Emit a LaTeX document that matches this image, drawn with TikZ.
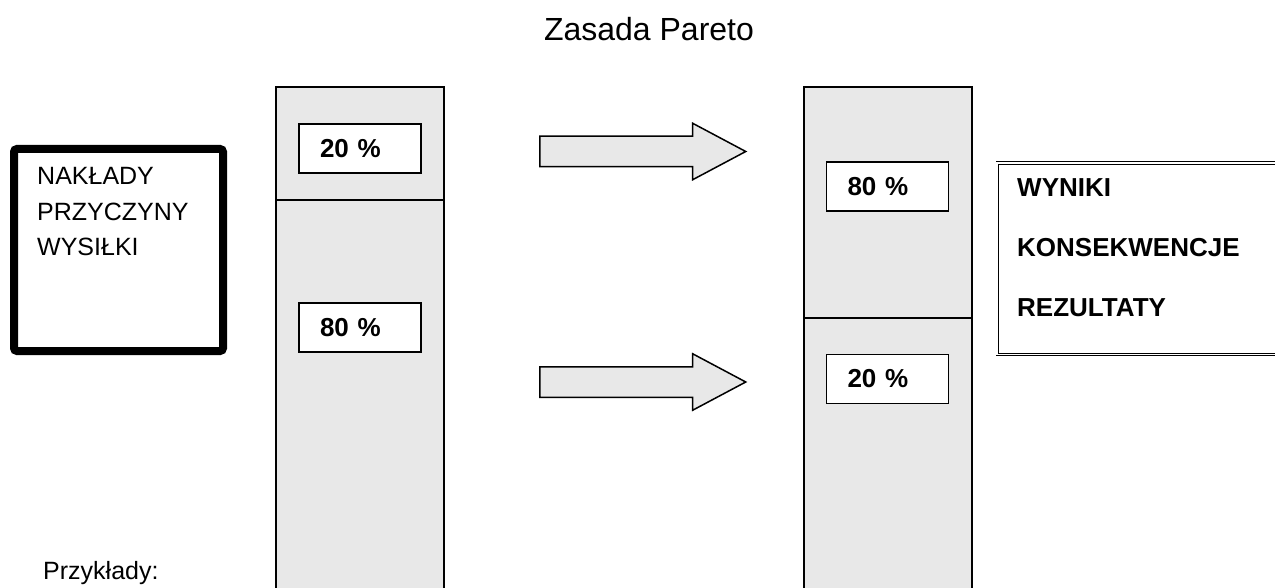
\documentclass[tikz,border=0pt]{standalone}
\usepackage{fontspec}
\setmainfont{Liberation Sans}
\usetikzlibrary{shapes.arrows,positioning}
\definecolor{colfill}{HTML}{E8E8E8}

\tikzset{
  column/.style={draw, line width=2pt, fill=colfill, minimum width=168pt, inner sep=0pt, outer sep=0pt, anchor=north},
  pctbox/.style={draw, line width=1.5pt, fill=white, inner xsep=21pt, inner ysep=0pt, text width=80pt,
    minimum height=49pt, align=left, font=\fontsize{26}{30}\selectfont\bfseries},
  blockarrow/.style={single arrow, draw, line width=1.5pt, fill=colfill, minimum height=206pt,
    single arrow head extend=13pt, single arrow tip angle=56, inner xsep=0pt, inner ysep=14.5pt, anchor=tail}
}

\begin{document}
\begin{tikzpicture}[x=1pt, y=-1pt]
  \useasboundingbox (0,0) rectangle (1275,588);
  \clip (0,0) rectangle (1275,588);

  \node[font=\fontsize{32}{38}\selectfont, anchor=base] (title) at (649,41) {Zasada Pareto};

  % inputs side
  \node[draw, line width=8pt, rounded corners=3pt, minimum width=209pt, minimum height=202pt, outer sep=0pt] (inputBox) at (118.5,250) {};
  \node[anchor=north west, inner sep=0pt, align=left, font=\fontsize{25}{35.7}\selectfont] (inputText) at (37,167) {NAKŁADY\\PRZYCZYNY\\WYSIŁKI};
  \node[anchor=base west, inner sep=0pt, font=\fontsize{25}{30}\selectfont] (examples) at (43,579) {Przykłady:};

  \node[column, minimum height=113pt] (leftTop) at (360,87) {};
  \node[column, minimum height=400pt] (leftBot) at (leftTop.south) {};
  \node[pctbox] (leftHigh) at (360,148.5) {20 \%};
  \node[pctbox] (leftLow) at (360,327.5) {80 \%};

  % arrows
  \node[blockarrow] (arrowHigh) at (539,151.5) {};
  \node[blockarrow] (arrowLow) at (539,382) {};

  % results side
  \node[column, minimum height=231pt] (rightTop) at (888,87) {};
  \node[column, minimum height=300pt] (rightBot) at (rightTop.south) {};
  \node[pctbox] (rightHigh) at (887.5,186.5) {80 \%};
  \node[pctbox] (rightLow) at (887.5,379) {20 \%};

  \node[draw, double, double distance=1.5pt, line width=0.9pt, minimum width=300pt, minimum height=191.7pt,
    anchor=north west, outer sep=0pt] (resultBox) at (997.2,163) {};
  \node[anchor=north west, inner sep=0pt, align=left, font=\fontsize{26}{60}\selectfont\bfseries] (resultText) at (1017,178.4) {WYNIKI\\KONSEKWENCJE\\REZULTATY};
\end{tikzpicture}
\end{document}
